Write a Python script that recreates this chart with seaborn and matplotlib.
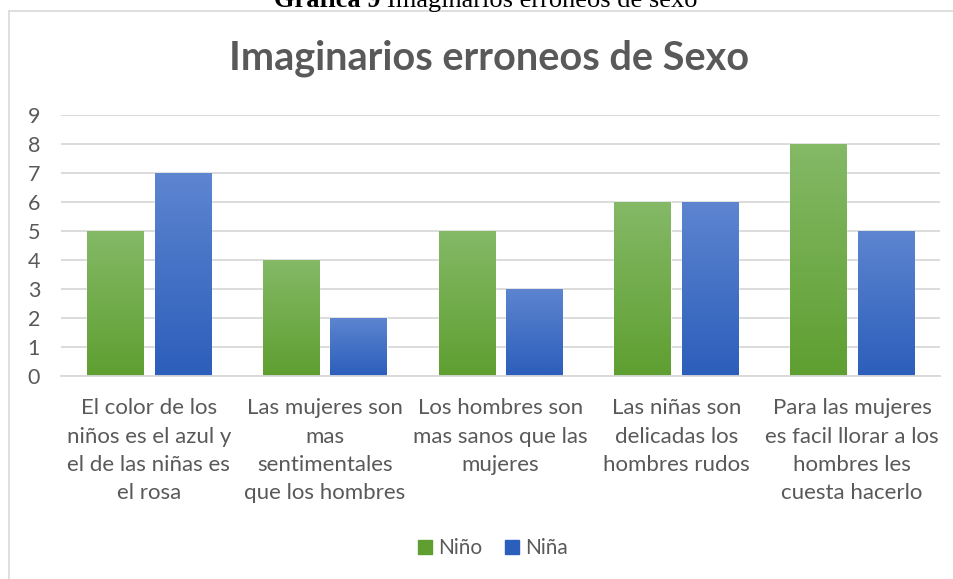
import numpy as np
import pandas as pd
import matplotlib
matplotlib.use("Agg")
import matplotlib.pyplot as plt
import seaborn as sns
from matplotlib.patches import Patch
from matplotlib.lines import Line2D
from matplotlib.colors import LinearSegmentedColormap

# ── data ──────────────────────────────────────────────────────────────────
categories = [
    "El color de los\nniños es el azul y\nel de las niñas es\nel rosa",
    "Las mujeres son\nmas\nsentimentales\nque los hombres",
    "Los hombres son\nmas sanos que las\nmujeres",
    "Las niñas son\ndelicadas los\nhombres rudos",
    "Para las mujeres\nes facil llorar a los\nhombres les\ncuesta hacerlo",
]
series = ["Niño", "Niña"]
nino = [5, 4, 5, 6, 8]
nina = [7, 2, 3, 6, 5]
y_ticks = list(range(0, 10))

df = pd.DataFrame({
    "categoria": categories * 2,
    "grupo": [series[0]] * len(nino) + [series[1]] * len(nina),
    "valor": nino + nina,
})

# colours (top, bottom) of the Excel-like gradient
grad = {
    "Niño": ("#84b966", "#5f9f31"),
    "Niña": ("#5d85d0", "#2c5ebb"),
}
grey = "#595959"
font = "Lato"

sns.set_theme(style="white")
plt.rcParams["font.family"] = [font, "DejaVu Sans"]

W, H = 954, 579
fig = plt.figure(figsize=(W / 100, H / 100), dpi=100)
ax = fig.add_axes([61 / W, 1 - 376 / H, (940 - 61) / W, (376 - 115) / H])

sns.barplot(data=df, x="categoria", y="valor", hue="grupo",
            palette={k: v[1] for k, v in grad.items()},
            width=0.77, gap=0.17, ax=ax, legend=False, saturation=1)

ax.set_ylim(0, 9)
ax.set_yticks(y_ticks)
ax.set_xlim(-0.5, len(categories) - 0.5)
ax.set_xlabel("")
ax.set_ylabel("")
ax.yaxis.grid(True, color="#d9d9d9", lw=1.3)
ax.set_axisbelow(True)
for s in ["top", "right", "left"]:
    ax.spines[s].set_visible(False)
ax.spines["bottom"].set_color("#d9d9d9")
ax.spines["bottom"].set_linewidth(1.3)
ax.tick_params(axis="y", length=0, pad=15, labelsize=15.5, labelcolor=grey)
ax.tick_params(axis="x", length=0, pad=16, labelsize=16, labelcolor=grey)
for lbl in ax.get_xticklabels():
    lbl.set_linespacing(1.52)

# gradient fill clipped to every bar
n = len(categories)
for i, bar in enumerate(ax.patches[: 2 * n]):
    key = series[i // n]
    cmap = LinearSegmentedColormap.from_list(key, [grad[key][1], grad[key][0]])
    x0, y0 = bar.get_x(), bar.get_y()
    w, h = bar.get_width(), bar.get_height()
    img = ax.imshow(np.linspace(0, 1, 64).reshape(-1, 1), cmap=cmap,
                    extent=[x0, x0 + w, y0, y0 + h], origin="lower",
                    aspect="auto", zorder=bar.get_zorder() + 0.1)
    img.set_clip_path(bar)
ax.set_xlim(-0.5, n - 0.5)
ax.set_ylim(0, 9)

# chart title
fig.text(489 / W, 1 - 58 / H, "Imaginarios erroneos de Sexo", ha="center",
         va="center", fontsize=28.5, fontweight="bold", color=grey)

# legend
handles = [Patch(color=grad[k][1], label=k) for k in series]
fig.legend(handles=handles, loc="center", bbox_to_anchor=(493 / W, 1 - 548 / H),
           ncol=2, frameon=False, fontsize=15, handlelength=0.65,
           handleheight=0.65, handletextpad=0.3, columnspacing=1.1,
           labelcolor=grey)

# chart border (only top and left visible)
fig.add_artist(Line2D([9 / W, 1], [1 - 11 / H, 1 - 11 / H], color="#d9d9d9", lw=1.2))
fig.add_artist(Line2D([9 / W, 9 / W], [0, 1 - 11 / H], color="#d9d9d9", lw=1.2))

# caption above the chart (partially cut off, as in the source)
fig.canvas.draw()
r = fig.canvas.get_renderer()
cy = 1 - 7 / H
t1 = fig.text(0, cy, "Gráfica 9 ", family="Liberation Serif", fontweight="bold",
              fontsize=19, va="baseline", color="black")
t2 = fig.text(0, cy, "Imaginarios erroneos de sexo", family="Liberation Serif",
              fontsize=19, va="baseline", color="black")
w1 = t1.get_window_extent(r).width
w2 = t2.get_window_extent(r).width
start = 486 - (w1 + w2) / 2
t1.set_x(start / W)
t2.set_x((start + w1) / W)

fig.savefig("out.png", dpi=100)
